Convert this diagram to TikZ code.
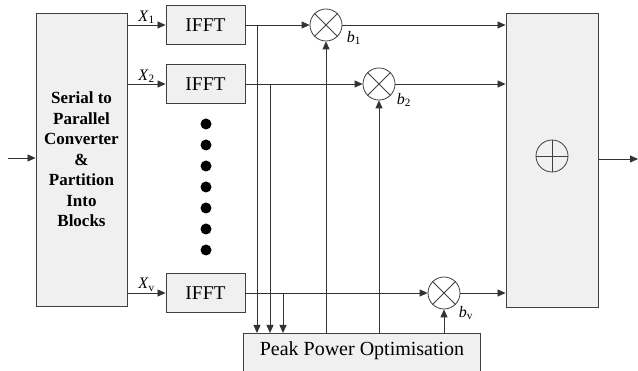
\documentclass[tikz,border=0pt]{standalone}
\usepackage{fontspec}
\setmainfont{Liberation Serif}
\usetikzlibrary{arrows.meta}
\usetikzlibrary{positioning}

\begin{document}
\begin{tikzpicture}[
        x=1pt, y=-1pt,
        line width=0.8pt,
        block/.style={rectangle, draw=black!75, fill=black!6, line width=0.9pt},
        fft/.style={block, minimum width=79pt, minimum height=39pt, font=\fontsize{19.5}{20}\selectfont},
        mult/.style={circle, draw=black!75, minimum size=32pt, inner sep=0pt},
        lbl/.style={font=\fontsize{16}{17}\selectfont, inner sep=1pt},
        arrow/.style={-{Triangle[length=8pt, width=7pt]}, draw=black!80, line width=0.8pt}
    ]
    \useasboundingbox (0,0) rectangle (638,371);

    % Serial to parallel converter
    \coordinate (in) at (8,158);
    \node[block, minimum width=91pt, minimum height=293pt, align=center, font=\fontsize{17}{20.5}\selectfont\bfseries] (sp) at (81.5,159.5) {Serial to\\Parallel\\Converter\\\&\\Partition\\Into\\Blocks};
    \draw[arrow] (in) -- (in -| sp.west);

    % IFFT blocks
    \node[fft] (ifft1) at (205.5,25) {IFFT};
    \node[fft] (ifft2) at (205.5,84) {IFFT};
    \node[fft] (ifftv) at (205.5,293) {IFFT};
    \foreach \y in {124,145,...,250} \fill (206,\y) circle (5.5pt);

    % Multipliers
    \node[mult] (m1) at (326,25) {};
    \node[mult] (m2) at (379,84) {};
    \node[mult] (mv) at (444,293) {};
    \foreach \m in {m1,m2,mv}
        \draw[black!75] (\m.north west) -- (\m.south east) (\m.north east) -- (\m.south west);
    \node[lbl] (b1) at (354,38) {\textit{b}\textsubscript{1}};
    \node[lbl] (b2) at (404,100) {\textit{b}\textsubscript{2}};
    \node[lbl] (bv) at (466,313) {\textit{b}\textsubscript{v}};

    % Combiner
    \node[block, minimum width=92pt, minimum height=294pt] (add) at (552,160) {};
    \node[mult] (sum) at (552,156) {};
    \draw[black!75] (sum.north) -- (sum.south) (sum.west) -- (sum.east);
    \coordinate (out) at (638,159);
    \draw[arrow] (add.east |- out) -- (out);

    % Peak power optimisation
    \node[block, minimum width=237pt, minimum height=42pt, anchor=north] (ppo) at (362,333) {};
    \node[font=\fontsize{20}{22}\selectfont] (ppotxt) at (362,351) {Peak Power Optimisation};

    % Signal rows
    \foreach \r in {1,2,v} {
        \draw[arrow] (sp.east |- ifft\r) -- node[lbl, above, pos=0.5] {\textit{X}\textsubscript{\r}} (ifft\r.west);
        \draw[arrow] (ifft\r.east) -- (m\r.west);
        \draw[arrow] (m\r.east) -- (add.west |- m\r);
        \draw[arrow] (ppo.north -| m\r) -- (m\r.south);
    }

    % Taps to optimiser
    \coordinate (t1) at (257,25);
    \coordinate (t2) at (270,84);
    \coordinate (tv) at (283,293);
    \foreach \t in {t1,t2,tv}
        \draw[arrow] (\t) -- (\t |- ppo.north);

\end{tikzpicture}
\end{document}
